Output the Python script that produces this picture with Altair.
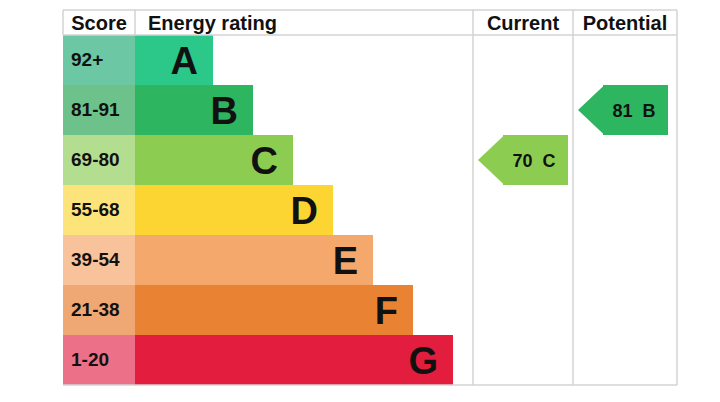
import altair as alt
import pandas as pd

# ---- data ----
ratings = ["A", "B", "C", "D", "E", "F", "G"]
score_ranges = ["92+", "81-91", "69-80", "55-68", "39-54", "21-38", "1-20"]
bar_colors = ["#2bc88a", "#2db560", "#8ccd51", "#fdd532", "#f5a86b", "#ea8233", "#e31d3d"]
score_colors = ["#6cc8a4", "#6dc18a", "#b4de8f", "#fde47a", "#f8c29b", "#efa774", "#ec7087"]

columns = ["Current", "Potential"]
col_scores = [70, 81]
col_ratings = ["C", "B"]

# ---- layout (pixel units of the x scale) ----
W, H = 614, 350
SCORE_W = 72
BAR_BASE = 150
BAR_STEP = 40
COL_X = [410, 510]
COL_END = 614
HEADER_H = 25
FONT = "Liberation Sans"
INK = "#111111"
LINE = "#d3d3d3"

rows = pd.DataFrame({
    "rating": ratings,
    "range": score_ranges,
    "bar_color": bar_colors,
    "score_color": score_colors,
})
rows["x0"] = 0
rows["score_x1"] = SCORE_W
rows["bar_end"] = [BAR_BASE + BAR_STEP * i for i in range(len(ratings))]
rows["label_x"] = 8

bar_color_of = dict(zip(ratings, bar_colors))
arrows = pd.DataFrame({
    "column": columns,
    "score": col_scores,
    "rating": col_ratings,
})
arrows["color"] = [bar_color_of[r] for r in col_ratings]
arrows["rx0"] = [c + 30 for c in COL_X]
arrows["rx1"] = [c + 95 for c in COL_X]
arrows["tx"] = [c + 61 for c in COL_X]
arrows["label"] = [f"{s}\u00a0\u00a0{r}" for s, r in zip(col_scores, col_ratings)]

xs = alt.Scale(domain=[0, W], range=[0, W], nice=False, zero=False)
ys = alt.Scale(domain=ratings, paddingInner=0, paddingOuter=0)
X = lambda f: alt.X(f"{f}:Q", scale=xs, axis=None)
Y = alt.Y("rating:N", scale=ys, axis=None)

base = alt.Chart(rows)

score_cells = base.mark_rect().encode(
    x=X("x0"), x2="score_x1", y=Y,
    color=alt.Color("score_color:N", scale=None))
bars = base.mark_rect().encode(
    x=X("score_x1"), x2="bar_end", y=Y,
    color=alt.Color("bar_color:N", scale=None))
score_text = base.mark_text(align="left", baseline="alphabetic", dy=6,
                            font=FONT, fontWeight="bold", fontSize=19, color=INK).encode(
    x=X("label_x"), y=Y, text="range:N")
letters = base.mark_text(align="right", baseline="alphabetic", dx=-15, dy=14,
                         font=FONT, fontWeight="bold", fontSize=38, color=INK).encode(
    x=X("bar_end"), y=Y, text="rating:N")

# grid lines
vlines_full = pd.DataFrame({"x": COL_X + [COL_END]})
vlines_head = pd.DataFrame({"x": [0, SCORE_W]})
hlines = pd.DataFrame({"x0": [0], "x1": [COL_END]})

v_full = alt.Chart(vlines_full).mark_rule(color=LINE, strokeWidth=1.5).encode(
    x=X("x"), y=alt.value(-HEADER_H), y2=alt.value(H))
v_head = alt.Chart(vlines_head).mark_rule(color=LINE, strokeWidth=1.5).encode(
    x=X("x"), y=alt.value(-HEADER_H), y2=alt.value(0))
h_top = alt.Chart(hlines).mark_rule(color=LINE, strokeWidth=1.5).encode(
    x=X("x0"), x2="x1", y=alt.value(-HEADER_H))
h_head = alt.Chart(hlines).mark_rule(color=LINE, strokeWidth=1.5).encode(
    x=X("x0"), x2="x1", y=alt.value(0))
h_bot = alt.Chart(hlines).mark_rule(color=LINE, strokeWidth=1.5).encode(
    x=X("x0"), x2="x1", y=alt.value(H))

# headers
headers = pd.DataFrame({
    "title": ["Score", "Current", "Potential"],
    "x": [SCORE_W / 2, (COL_X[0] + COL_X[1]) / 2, (COL_X[1] + COL_END) / 2],
})
head_text = alt.Chart(headers).mark_text(align="center", baseline="alphabetic",
                                         font=FONT, fontWeight="bold", fontSize=20, color=INK).encode(
    x=X("x"), y=alt.value(-5), text="title:N")
head2 = pd.DataFrame({"title": ["Energy rating"], "x": [SCORE_W + 13]})
head_text2 = alt.Chart(head2).mark_text(align="left", baseline="alphabetic",
                                        font=FONT, fontWeight="bold", fontSize=20, color=INK).encode(
    x=X("x"), y=alt.value(-5), text="title:N")

# arrows
abase = alt.Chart(arrows)
arrow_rect = abase.mark_rect().encode(
    x=X("rx0"), x2="rx1", y=Y, color=alt.Color("color:N", scale=None))
arrow_tip = abase.mark_point(shape="M 0.06 -1 L 0.06 1 L -1 0 Z", filled=True,
                             size=2500, opacity=1, strokeWidth=0).encode(
    x=X("rx0"), y=Y, color=alt.Color("color:N", scale=None))
arrow_text = abase.mark_text(align="center", baseline="alphabetic", dy=6.5,
                             font=FONT, fontWeight="bold", fontSize=18, color=INK).encode(
    x=X("tx"), y=Y, text="label:N")

chart = alt.layer(
    score_cells, bars, score_text, letters,
    arrow_rect, arrow_tip, arrow_text,
    v_full, v_head, h_top, h_head, h_bot,
    head_text, head_text2,
).properties(
    width=W, height=H,
    padding={"left": 55, "top": 27, "right": 35, "bottom": 17},
    autosize=alt.AutoSizeParams(type="none"),
    background="white",
).configure_view(stroke=None)

chart.save("out.html", embed_options={"renderer": "svg", "actions": False})
